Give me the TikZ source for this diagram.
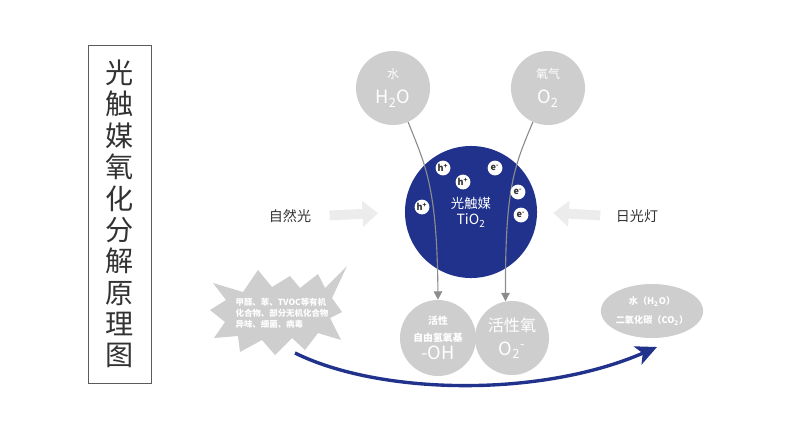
\documentclass[tikz,border=0pt]{standalone}
\usepackage{fontspec}
\setmainfont{Noto Sans CJK SC}
\usetikzlibrary{arrows.meta,shapes.geometric}
\definecolor{navy}{RGB}{32,50,140}
\definecolor{ballgray}{RGB}{206,206,206}
\definecolor{lightarrow}{RGB}{236,236,236}
\definecolor{linegray}{RGB}{140,140,140}
\definecolor{textgray}{RGB}{50,50,50}
\begin{document}
\begin{tikzpicture}[x=0.025cm,y=-0.025cm]
    \tikzset{
      ball/.style={circle,fill=ballgray,text=white,inner sep=0pt,align=center},
      charge/.style={circle,fill=white,text=textgray,minimum size=0.37cm,inner sep=0pt,font=\fontsize{6.5}{7}\selectfont\bfseries},
      flow/.style={linegray,line width=0.8pt,-{Triangle[length=6pt,width=6pt]}},
      light/.style={lightarrow,line width=7pt,-{Triangle[length=11pt,width=18pt]}}
    }
    \useasboundingbox (0,0) rectangle (800,428);

        %TITLE
        \node[draw=textgray!80,line width=0.6pt,minimum width=1.575cm,minimum height=8.45cm,align=center,text=textgray,font=\fontsize{20}{22.3}\selectfont] (title) at (119.5,214) {光\\触\\媒\\氧\\化\\分\\解\\原\\理\\图};

        %INPUTS
        \node[ball,minimum size=1.85cm] (water) at (393,88) {{\fontsize{8.5}{10}\selectfont 水}\\[6pt]{\fontsize{13}{15}\selectfont H\textsubscript{2}O}};
        \node[ball,minimum size=1.85cm] (oxygen) at (548,88) {{\fontsize{8.5}{10}\selectfont 氧气}\\[6pt]{\fontsize{13}{15}\selectfont O\textsubscript{2}}};

        %CATALYST
        \node[circle,fill=navy,minimum size=3.3cm,inner sep=0pt,text=white,align=center] (cat) at (471,212) {{\fontsize{9.5}{10}\selectfont 光触媒}\\{\fontsize{10}{12}\selectfont TiO\textsubscript{2}}};

        %RADICALS
        \node[ball,minimum size=1.9cm] (oh) at (438,338) {{\fontsize{7}{9}\selectfont\bfseries 活性}\\{\fontsize{7}{9}\selectfont\bfseries 自由氢氧基}\\[1pt]{\fontsize{13}{15}\selectfont -OH}};
        \node[ball,minimum size=1.85cm] (superox) at (512,338) {{\fontsize{11.5}{13}\selectfont 活性氧}\\[5pt]{\fontsize{13}{15}\selectfont O\textsubscript{2}\textsuperscript{-}}};

        \draw[flow] (water.-66) .. controls (425,165) and (437,185) .. (oh.north);
        \draw[flow] (oxygen.-114) .. controls (515,165) and (505,185) .. (superox.100);

      \node[charge] (h1) at (443,168) {h\textsuperscript{+}};
      \node[charge] (h2) at (463,182) {h\textsuperscript{+}};
      \node[charge] (h3) at (422,207) {h\textsuperscript{+}};
      \node[charge] (e1) at (495,168) {e\textsuperscript{-}};
      \node[charge] (e2) at (518,192) {e\textsuperscript{-}};
      \node[charge] (e3) at (521,215) {e\textsuperscript{-}};

        %LIGHT
        \node[text=textgray,font=\fontsize{10}{12}\selectfont] (sun) at (290,216) {自然光};
        \node[text=textgray,font=\fontsize{10}{12}\selectfont] (lamp) at (637,216) {日光灯};
        \draw[light,shorten <=9.6pt,shorten >=19pt] (sun.east) -- (cat.west);
        \draw[light,shorten <=7.6pt,shorten >=11.4pt] (lamp.west) -- (cat.east);

    %POLLUTANTS
    \fill[ballgray] (213,283) -- (243,292) -- (258,270) -- (272,287) -- (290,276) -- (300,288)
      -- (318,274) -- (325,288) -- (347,266) -- (332,298) -- (342,312) -- (330,318) -- (341,340)
      -- (318,333) -- (305,350) -- (292,338) -- (275,355) -- (262,340) -- (240,352) -- (238,336)
      -- (214,338) -- (225,322) -- (210,310) -- (226,300) -- cycle;
    \node[text=white,align=left,font=\fontsize{6}{7.8}\selectfont\bfseries] (pollut) at (282,313) {甲醛、苯、TVOC等有机\\化合物、部分无机化合物\\异味、细菌、病毒};

    %PRODUCTS
    \node[ellipse,fill=ballgray,minimum width=2.5cm,minimum height=1.35cm,inner sep=0pt,text=white,align=center,font=\fontsize{6.5}{14}\selectfont\bfseries] (prod) at (652,311) {水（H\textsubscript{2}O）\\二氧化碳（CO\textsubscript{2}）};

    \coordinate (src) at (295,353);
    \coordinate (tip) at (657,347);
    \draw[navy,line width=2.4pt,-{Stealth[length=15pt,width=14pt,inset=4pt]}] (src) .. controls (380,395) and (540,398) .. (tip);
    \end{tikzpicture}
\end{document}
